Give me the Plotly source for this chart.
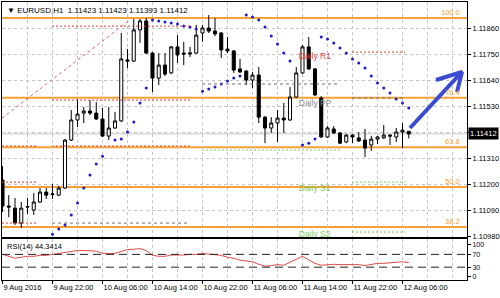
import plotly.graph_objects as go

# ---------------- data ----------------
bars = list(range(66))
opens = [1.11217, 1.11107, 1.11098, 1.11035, 1.11105, 1.11090, 1.11124, 1.11166, 1.11155, 1.11153,
         1.11183, 1.11386, 1.11471, 1.11500, 1.11509, 1.11500, 1.11475, 1.11403, 1.11437, 1.11467,
         1.11725, 1.11720, 1.11852, 1.11890, 1.11754, 1.11648, 1.11703, 1.11670, 1.11780, 1.11754,
         1.11750, 1.11754, 1.11839, 1.11860, 1.11847, 1.11839, 1.11771, 1.11763, 1.11687, 1.11678,
         1.11640, 1.11661, 1.11483, 1.11437, 1.11458, 1.11479, 1.11471, 1.11568, 1.11670, 1.11780,
         1.11687, 1.11564, 1.11399, 1.11433, 1.11416, 1.11378, 1.11407, 1.11395, 1.11386, 1.11365,
         1.11390, 1.11395, 1.11407, 1.11399, 1.11420, 1.11423]
highs = [1.11276, 1.11153, 1.11141, 1.11124, 1.11141, 1.11162, 1.11183, 1.11183, 1.11200, 1.11192,
         1.11390, 1.11513, 1.11560, 1.11526, 1.11555, 1.11547, 1.11522, 1.11526, 1.11505, 1.11839,
         1.11771, 1.11898, 1.11898, 1.11902, 1.11758, 1.11754, 1.11754, 1.11784, 1.11830, 1.11801,
         1.11780, 1.11873, 1.11873, 1.11915, 1.11902, 1.11843, 1.11822, 1.11767, 1.11729, 1.11682,
         1.11674, 1.11695, 1.11488, 1.11483, 1.11513, 1.11543, 1.11610, 1.11695, 1.11788, 1.11822,
         1.11691, 1.11572, 1.11445, 1.11445, 1.11420, 1.11412, 1.11412, 1.11420, 1.11433, 1.11403,
         1.11403, 1.11450, 1.11412, 1.11437, 1.11458, 1.11423]
lows = [1.11082, 1.11060, 1.11027, 1.11014, 1.11073, 1.11069, 1.11120, 1.11137, 1.11137, 1.11149,
        1.11179, 1.11382, 1.11441, 1.11458, 1.11492, 1.11471, 1.11399, 1.11386, 1.11433, 1.11462,
        1.11691, 1.11716, 1.11797, 1.11750, 1.11589, 1.11619, 1.11657, 1.11665, 1.11712, 1.11703,
        1.11737, 1.11750, 1.11801, 1.11839, 1.11826, 1.11733, 1.11754, 1.11670, 1.11670, 1.11619,
        1.11606, 1.11458, 1.11373, 1.11416, 1.11378, 1.11416, 1.11467, 1.11564, 1.11665, 1.11682,
        1.11572, 1.11395, 1.11395, 1.11412, 1.11369, 1.11373, 1.11373, 1.11378, 1.11314, 1.11340,
        1.11369, 1.11390, 1.11365, 1.11378, 1.11352, 1.11393]
closes = [1.11107, 1.11103, 1.11035, 1.11098, 1.11103, 1.11124, 1.11166, 1.11153, 1.11158, 1.11183,
          1.11386, 1.11471, 1.11496, 1.11509, 1.11500, 1.11475, 1.11403, 1.11437, 1.11467, 1.11729,
          1.11720, 1.11852, 1.11890, 1.11754, 1.11648, 1.11703, 1.11665, 1.11780, 1.11746, 1.11750,
          1.11754, 1.11830, 1.11860, 1.11847, 1.11835, 1.11767, 1.11763, 1.11682, 1.11674, 1.11640,
          1.11661, 1.11483, 1.11437, 1.11458, 1.11479, 1.11471, 1.11568, 1.11670, 1.11780, 1.11687,
          1.11577, 1.11399, 1.11437, 1.11416, 1.11373, 1.11407, 1.11399, 1.11382, 1.11352, 1.11390,
          1.11399, 1.11407, 1.11403, 1.11420, 1.11428, 1.11412]

sar_bars = [8, 9, 10, 11, 12, 13, 14, 15, 16, 18, 19, 20, 21, 22, 23,
            24, 25, 26, 27, 28, 29, 30, 31,
            32, 33, 34, 35, 36, 37, 38,
            39, 40, 41, 42, 43, 44, 45, 46,
            48, 49, 50,
            51, 52, 53, 54, 55, 56, 57, 58, 59, 60, 61, 62, 63, 64, 65]
sar_vals = [1.10988, 1.11010, 1.11027, 1.11069, 1.11120, 1.11183, 1.11238, 1.11285, 1.11318, 1.11386,
            1.11390, 1.11420, 1.11462, 1.11543, 1.11606,
            1.11894, 1.11890, 1.11885, 1.11881, 1.11877, 1.11868, 1.11864, 1.11856,
            1.11593, 1.11602, 1.11610, 1.11623, 1.11636, 1.11648, 1.11657,
            1.11915, 1.11907, 1.11894, 1.11864, 1.11826, 1.11792, 1.11754, 1.11720,
            1.11365, 1.11373, 1.11390,
            1.11822, 1.11813, 1.11797, 1.11775, 1.11754, 1.11729, 1.11712, 1.11691, 1.11657, 1.11627,
            1.11606, 1.11585, 1.11560, 1.11543, 1.11522]

rsi = [70, 64, 58, 61, 64, 64, 67, 67, 70, 73,
       76, 79, 82, 82, 82, 80, 73, 73, 73, 79,
       85, 86, 88, 82, 67, 64, 64, 68, 67, 68,
       70, 70, 73, 71, 70, 67, 61, 58, 52, 50,
       47, 39, 33, 35, 38, 36, 45, 55, 64, 53,
       42, 36, 38, 39, 38, 38, 38, 38, 35, 39,
       42, 42, 44, 45, 47, 44.3414]

time_ticks = [0, 8, 16, 24, 32, 40, 48, 56, 64]
time_labels = ["9 Aug 2016", "9 Aug 22:00", "10 Aug 06:00", "10 Aug 14:00", "10 Aug 22:00",
               "11 Aug 06:00", "11 Aug 14:00", "11 Aug 22:00", "12 Aug 06:00"]
price_ticks = [1.10980, 1.11090, 1.11200, 1.11310, 1.11420, 1.11530, 1.11640, 1.11750, 1.11860]
price_labels = ["1.10980", "1.11090", "1.11200", "1.11310", "", "1.11530", "1.11640", "1.11750", "1.11860"]
rsi_ticks = [0, 30, 70, 100]
rsi_levels = [30, 70]

fib_low, fib_high = 1.10472, 1.11902
fib_ratios = [38.2, 50.0, 61.8, 76.4, 100.0]

# daily pivot segments (start bar, end bar, levels)
piv_start = [-0.08, 7.92, 31.92, 55.92]
piv_end = [5.68, 30.0, 54.0, 64.4]
piv_red = [[1.11361, 1.11208, 1.11035], [1.11868, 1.11555, 1.11361], [], [1.11758]]
piv_grey = [[], [1.11035], [1.11623], [1.11564]]
piv_green = [[], [], [1.11344], [1.11208, 1.10997]]
piv_label_text = ["Daily R1", "Daily PP", "Daily S1", "Daily S2"]
piv_label_y = [1.11737, 1.11538, 1.11179, 1.10984]
piv_label_x = 47.4

trend_x = [-0.08, 20.4]
trend_y = [1.11479, 1.11894]

arrow_x = [65.2, 73.52, None, 69.36, 73.52, 72.72]
arrow_y = [1.11437, 1.11674, None, 1.11640, 1.11674, 1.11589]

# ---------------- style ----------------
FONT = "Liberation Sans"
FS = 7.5
GRID = "#c4c4c4"
ORANGE = "#f5a035"
RED = "#e03c3c"
GREY = "#8a8a8a"
GREEN = "#7ccc5c"
XR = [-0.08, -0.08 + 465 / 6.25]

fig = go.Figure()

shapes = []
for r in fib_ratios:
    lvl = fib_low + r / 100.0 * (fib_high - fib_low)
    shapes.append(dict(type="line", xref="x domain", yref="y", x0=0, x1=1, y0=lvl, y1=lvl,
                       line=dict(color=ORANGE, width=2), layer="below"))
shapes.append(dict(type="line", xref="x domain", yref="y", x0=0, x1=1, y0=closes[-1], y1=closes[-1],
                   line=dict(color="#c8c8c8", width=1), layer="below"))
for i in range(len(piv_start)):
    for lst, col, dash in ((piv_red[i], RED, "2px,2px"), (piv_grey[i], "#707070", "3px,3px"),
                           (piv_green[i], GREEN, "2px,2px")):
        for lvl in lst:
            shapes.append(dict(type="line", xref="x", yref="y", x0=piv_start[i], x1=piv_end[i],
                               y0=lvl, y1=lvl, line=dict(color=col, width=1, dash=dash)))
for lv in rsi_levels:
    shapes.append(dict(type="line", xref="x2 domain", yref="y2", x0=0, x1=1, y0=lv, y1=lv,
                       line=dict(color="#222222", width=1, dash="8px,5px")))

fig.add_trace(go.Scatter(x=trend_x, y=trend_y, mode="lines",
                         line=dict(color="#e06070", width=1, dash="3px,3px"),
                         xaxis="x", yaxis="y", hoverinfo="skip"))

fig.add_trace(go.Candlestick(
    x=bars, open=opens, high=highs, low=lows, close=closes,
    increasing=dict(line=dict(color="black", width=1), fillcolor="white"),
    decreasing=dict(line=dict(color="black", width=1), fillcolor="black"),
    whiskerwidth=0, xaxis="x", yaxis="y"))

fig.add_trace(go.Scatter(x=sar_bars, y=sar_vals, mode="markers",
                         marker=dict(color="#1a1ad0", size=3), xaxis="x", yaxis="y"))

piv_colors = [RED, GREY, GREEN, GREEN]
fig.add_trace(go.Scatter(x=[piv_label_x] * 4, y=piv_label_y, mode="text", text=piv_label_text,
                         textposition="middle right",
                         textfont=dict(family=FONT, size=FS + 1, color=piv_colors),
                         xaxis="x", yaxis="y", cliponaxis=True))

fig.add_trace(go.Scatter(x=arrow_x, y=arrow_y, mode="lines",
                         line=dict(color="#3a4ad2", width=4), xaxis="x", yaxis="y"))

fig.add_trace(go.Scatter(x=bars, y=rsi, mode="lines", line=dict(color="#e04848", width=1),
                         xaxis="x2", yaxis="y2"))

annotations = []
for r in fib_ratios:
    lvl = fib_low + r / 100.0 * (fib_high - fib_low)
    annotations.append(dict(xref="x domain", yref="y", x=0.99, y=lvl, xanchor="right", yanchor="bottom",
                            text=f"{r:.1f}", showarrow=False, yshift=-1,
                            font=dict(family=FONT, size=FS, color=ORANGE)))
annotations.append(dict(xref="paper", yref="y", x=1, y=closes[-1], xanchor="left", yanchor="middle",
                        xshift=1, text=f"{closes[-1]:.5f}", showarrow=False, bgcolor="black",
                        borderpad=1, font=dict(family=FONT, size=FS, color="white")))
annotations.append(dict(xref="paper", yref="paper", x=0, y=1, xanchor="left", yanchor="top",
                        xshift=3, yshift=-2,
                        text=f"\u25bc EURUSD,H1  {opens[-1]:.5f} {highs[-1]:.5f} {lows[-1]:.5f} {closes[-1]:.5f}",
                        showarrow=False, font=dict(family=FONT, size=FS + 0.5, color="black")))
annotations.append(dict(xref="paper", yref="y2 domain", x=0, y=1, xanchor="left", yanchor="top",
                        xshift=3, yshift=-1, text=f"RSI(14) {rsi[-1]:.4f}", showarrow=False,
                        font=dict(family=FONT, size=FS, color="black")))

axis_common = dict(showline=True, mirror=True, linecolor="black", linewidth=1, zeroline=False,
                   automargin=False)
minor_grid = dict(tickmode="linear", tick0=0, dtick=4, showgrid=True, gridcolor=GRID,
                  griddash="3px,3px", gridwidth=1, ticks="")

fig.update_layout(
    width=500, height=298, margin=dict(l=2, r=33, t=2, b=18),
    paper_bgcolor="white", plot_bgcolor="white", showlegend=False,
    font=dict(family=FONT, size=FS, color="black"),
    shapes=shapes, annotations=annotations,
    xaxis=dict(domain=[0, 1], anchor="y", range=XR, tickvals=time_ticks, showticklabels=False,
               ticks="", showgrid=True, gridcolor=GRID, griddash="3px,3px", minor=minor_grid,
               rangeslider=dict(visible=False), **axis_common),
    yaxis=dict(domain=[0.1547, 1], anchor="x", side="right", range=[1.10976, 1.11970],
               tickvals=price_ticks, ticktext=price_labels, ticks="outside", ticklen=3,
               tickcolor="black", showgrid=True, gridcolor=GRID, griddash="3px,3px",
               tickfont=dict(family=FONT, size=FS, color="black"), **axis_common),
    xaxis2=dict(domain=[0, 1], anchor="y2", range=XR, matches="x", tickvals=time_ticks,
                ticktext=time_labels, ticks="outside", ticklen=3, tickcolor="black", tickangle=0,
                ticklabelposition="outside right", showgrid=True, gridcolor=GRID,
                griddash="3px,3px", minor=minor_grid,
                tickfont=dict(family=FONT, size=FS, color="black"), **axis_common),
    yaxis2=dict(domain=[0, 0.1475], anchor="x2", side="right", range=[-10, 118],
                tickvals=rsi_ticks, ticks="outside", ticklen=3, tickcolor="black", showgrid=False,
                tickfont=dict(family=FONT, size=7, color="black"), **axis_common),
)

fig.write_html("out.html")
